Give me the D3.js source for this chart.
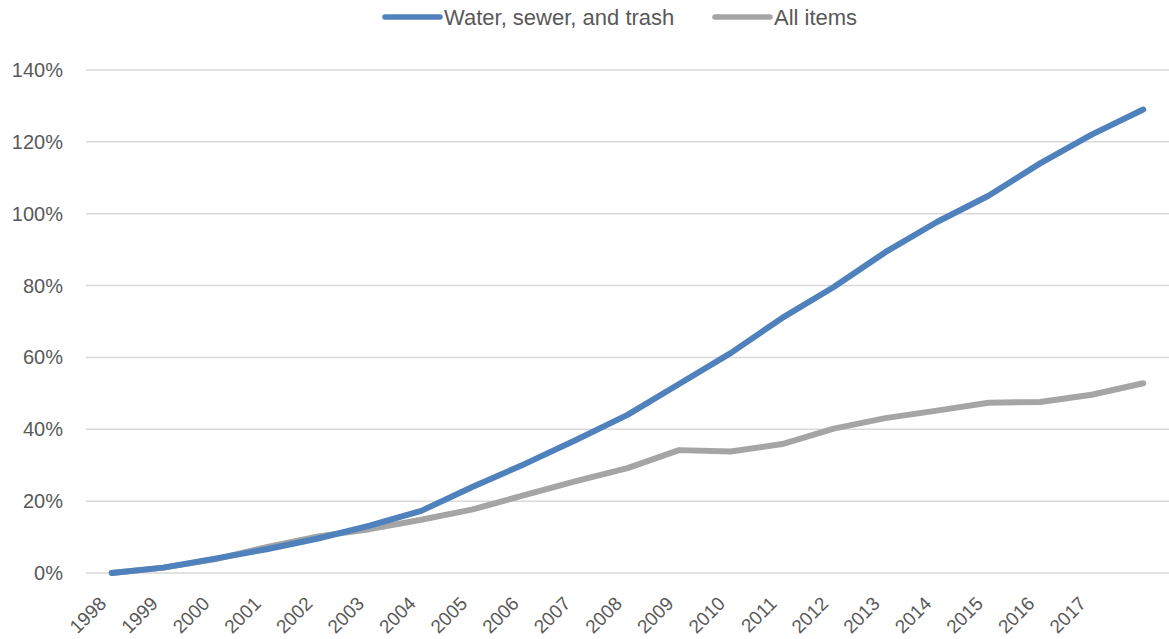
<!DOCTYPE html>
<html>
<head>
<meta charset="utf-8">
<script src="https://cdn.jsdelivr.net/npm/d3@7"></script>
<style>
body{margin:0;background:#fff;}
text{font-family:"Liberation Sans",Arial,sans-serif;fill:#595959;}
</style>
</head>
<body>
<svg id="chart" width="1169" height="639"></svg>
<script>
// data
var years = ["1998","1999","2000","2001","2002","2003","2004","2005","2006","2007",
    "2008","2009","2010","2011","2012","2013","2014","2015","2016","2017","2018"];
var tickYears = years.slice(0, 20);
var water = [0,1.5,4,6.6,9.6,13.2,17.3,24,30.3,37,44,52.6,61.2,71,79.6,89.3,97.7,105,114,122,129];
var allItems = [0,1.5,3.8,7.2,10.2,12.2,14.8,17.7,21.7,25.6,29.2,34.2,33.8,35.9,40.2,43.1,45.2,47.4,47.6,49.6,52.8];
var yTicks = [0,20,40,60,80,100,120,140];

var series = [
    {name:"Water, sewer, and trash", values:water, color:"#4f81bd"},
    {name:"All items", values:allItems, color:"#a5a5a5"}
];

var svg = d3.select("#chart");
var plot = {left: 86, right: 1169, top: 70, bottom: 573};

var x = d3.scalePoint().domain(years).range([plot.left, plot.right]).padding(0.5);
var y = d3.scaleLinear().domain([0,140]).range([plot.bottom, plot.top]);

// gridlines
svg.append("g").selectAll("line")
    .data(yTicks)
    .enter().append("line")
    .attr("x1", plot.left).attr("x2", plot.right)
    .attr("y1", function(d){return y(d)}).attr("y2", function(d){return y(d)})
    .attr("stroke", "#d9d9d9")
    .attr("stroke-width", 1.5);

// y labels
svg.append("g").selectAll("text")
    .data(yTicks)
    .enter().append("text")
    .attr("x", 63)
    .attr("y", function(d){return y(d)})
    .attr("dy", "0.35em")
    .attr("text-anchor", "end")
    .style("font-size", "20px")
    .text(function(d){return d + "%"});

// x labels
svg.append("g").selectAll("text")
    .data(tickYears)
    .enter().append("text")
    .attr("transform", function(d){return "translate(" + (x(d) - 9) + ",600) rotate(-45)"})
    .attr("text-anchor", "end")
    .attr("dy", "0.35em")
    .style("font-size", "19px")
    .text(function(d){return d});

var line = d3.line()
    .x(function(d, i){return x(years[i])})
    .y(function(d){return y(d)});

// gray first so blue sits on top where they diverge
svg.append("g").selectAll("path")
    .data(series.slice().reverse())
    .enter().append("path")
    .attr("d", function(s){return line(s.values)})
    .attr("fill", "none")
    .attr("stroke", function(s){return s.color})
    .attr("stroke-width", 6)
    .attr("stroke-linecap", "round")
    .attr("stroke-linejoin", "round");

// legend
var legendPos = [385, 715];
var legend = svg.append("g").selectAll("g")
    .data(series)
    .enter().append("g")
    .attr("transform", function(d, i){return "translate(" + legendPos[i] + ",17)"});
legend.append("line")
    .attr("x1", 0).attr("x2", 55)
    .attr("stroke", function(d){return d.color})
    .attr("stroke-width", 5.5)
    .attr("stroke-linecap", "round");
legend.append("text")
    .attr("x", 59)
    .attr("dy", "0.35em")
    .style("font-size", "22px")
    .text(function(d){return d.name});
</script>
</body>
</html>
